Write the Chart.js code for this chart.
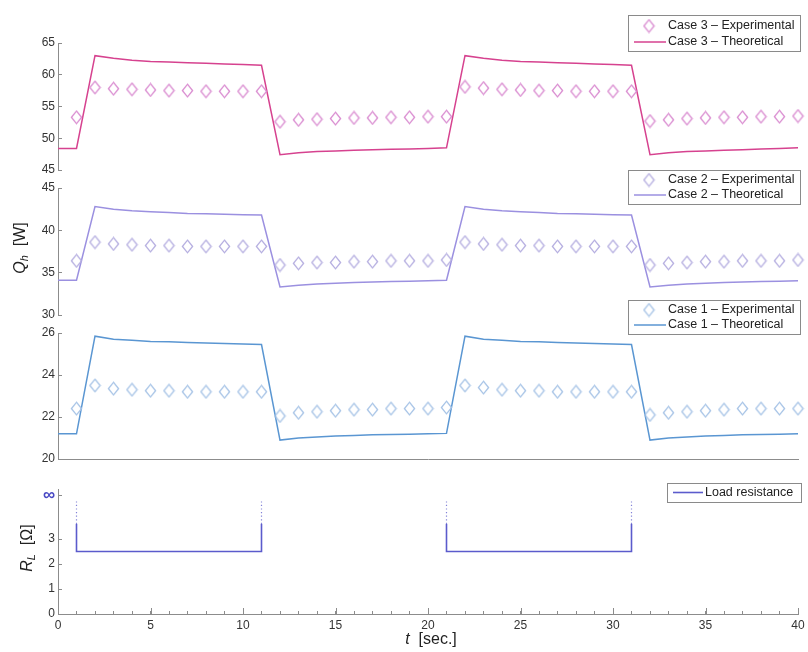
<!DOCTYPE html>
<html><head><meta charset="utf-8">
<script src="https://cdn.jsdelivr.net/npm/chart.js@4/dist/chart.umd.min.js"></script>
<style>
body{margin:0;background:#fff}
#wrap{position:relative;width:808px;height:652px;background:#fff}
#wrap canvas{position:absolute;left:0;top:0}
</style></head>
<body><div id="wrap">
<canvas id="c1" width="808" height="652"></canvas>
<canvas id="c2" width="808" height="652"></canvas>
<canvas id="c3" width="808" height="652"></canvas>
<canvas id="c4" width="808" height="652"></canvas>
</div>
<script>
// ---------------- data ----------------
const tTheory = [0,1,2,3,4,5,6,7,8,9,10,11,12,13,14,15,16,17,18,19,20,21,22,23,24,25,26,27,28,29,30,31,32,33,34,35,36,37,38,39,40];
const tExp = [1,2,3,4,5,6,7,8,9,10,11,12,13,14,15,16,17,18,19,20,21,22,23,24,25,26,27,28,29,30,31,32,33,34,35,36,37,38,39,40];

const case3Theory = [48.4,48.4, 63.0,62.6,62.3,62.1,62.0,61.9,61.8,61.7,61.6,61.5, 47.4,47.7,47.9,48.0,48.1,48.2,48.25,48.3,48.4,48.5, 63.0,62.6,62.3,62.1,62.0,61.9,61.8,61.7,61.6,61.5, 47.4,47.7,47.9,48.0,48.1,48.2,48.3,48.4,48.5];
const case3Exp = [53.3, 58.0,57.8,57.7,57.6,57.5,57.5,57.4,57.4,57.4,57.4, 52.6,52.9,53.0,53.1,53.2,53.2,53.3,53.3,53.4,53.4, 58.1,57.9,57.7,57.6,57.5,57.5,57.4,57.4,57.4,57.4, 52.7,52.9,53.1,53.2,53.3,53.3,53.4,53.4,53.5];

const case2Theory = [34.1,34.1, 42.8,42.5,42.3,42.2,42.1,42.0,41.95,41.9,41.85,41.8, 33.3,33.5,33.65,33.75,33.85,33.9,33.95,34.0,34.05,34.1, 42.8,42.5,42.3,42.2,42.1,42.0,41.95,41.9,41.85,41.8, 33.3,33.5,33.65,33.75,33.85,33.9,33.95,34.0,34.05];
const case2Exp = [36.4, 38.6,38.4,38.3,38.2,38.2,38.1,38.1,38.1,38.1,38.1, 35.9,36.1,36.2,36.2,36.3,36.3,36.4,36.4,36.4,36.5, 38.6,38.4,38.3,38.2,38.2,38.1,38.1,38.1,38.1,38.1, 35.9,36.1,36.2,36.3,36.3,36.4,36.4,36.4,36.5];

const case1Theory = [21.2,21.2, 25.85,25.7,25.65,25.6,25.58,25.55,25.52,25.5,25.48,25.45, 20.9,21.0,21.05,21.1,21.12,21.15,21.17,21.18,21.2,21.22, 25.85,25.7,25.65,25.6,25.58,25.55,25.52,25.5,25.48,25.45, 20.9,21.0,21.05,21.1,21.12,21.15,21.17,21.18,21.2];
const case1Exp = [22.4, 23.5,23.35,23.3,23.25,23.25,23.2,23.2,23.2,23.2,23.2, 22.05,22.2,22.25,22.3,22.35,22.35,22.4,22.4,22.4,22.45, 23.5,23.4,23.3,23.25,23.25,23.2,23.2,23.2,23.2,23.2, 22.1,22.2,22.25,22.3,22.35,22.4,22.4,22.4,22.4];

const loadX = [1,1,11,11,null,21,21,31,31];
const loadY = [3.6,2.5,2.5,3.6,null,3.6,2.5,2.5,3.6];
const loadDotX = [1,1,null,11,11,null,21,21,null,31,31];
const loadDotY = [3.6,4.5,null,3.6,4.5,null,3.6,4.5,null,3.6,4.5];

const rlTickValues = [0,1,2,3,4.75];
const rlTickLabels = ['0','1','2','3','\u221E'];
const xMajorTicks = [0,5,10,15,20,25,30,35,40];

const labels3 = ['Case 3 \u2013 Experimental','Case 3 \u2013 Theoretical'];
const labels2 = ['Case 2 \u2013 Experimental','Case 2 \u2013 Theoretical'];
const labels1 = ['Case 1 \u2013 Experimental','Case 1 \u2013 Theoretical'];
const labelLoad = 'Load resistance';

// ---------------- styling helpers ----------------
const FONT = '"Liberation Sans", Arial, Helvetica, sans-serif';
const AX = '#8c8c8c';
const TXT = '#333';

function diamond(color){
  const c = document.createElement('canvas'); c.width = 13; c.height = 15;
  const g = c.getContext('2d'); g.strokeStyle = color; g.lineWidth = 1.3;
  g.beginPath(); g.moveTo(6.5,1.2); g.lineTo(11.6,7.5); g.lineTo(6.5,13.8); g.lineTo(1.4,7.5); g.closePath(); g.stroke();
  return c;
}
function pts(xs, ys){ return xs.map((x,i)=>({x:x, y:ys[i]})); }

const boxLegend = {
  id:'boxLegend',
  afterDraw(chart, args, o){
    if(!o || !o.box) return;
    const ctx = chart.ctx; const [x,y,w,h] = o.box;
    ctx.save();
    ctx.fillStyle = '#fff'; ctx.fillRect(x,y,w,h);
    ctx.strokeStyle = '#8a8a8a'; ctx.lineWidth = 1; ctx.strokeRect(x+0.5,y+0.5,w,h);
    ctx.font = '12.5px ' + FONT; ctx.textBaseline = 'middle'; ctx.textAlign = 'left'; ctx.fillStyle = '#222';
    o.items.forEach((di,k)=>{
      const ds = chart.data.datasets[di]; const ry = y + o.rows[k];
      if(ds.showLine === false){
        const im = ds.pointStyle; ctx.drawImage(im, o.markX - im.width/2, ry - im.height/2);
      } else {
        ctx.strokeStyle = ds.borderColor; ctx.lineWidth = ds.borderWidth;
        ctx.beginPath(); ctx.moveTo(o.lineX[0], ry); ctx.lineTo(o.lineX[1], ry); ctx.stroke();
      }
      ctx.fillStyle = '#222'; ctx.fillText(ds.label, o.textX, ry);
    });
    ctx.restore();
  }
};

function drawRich(ctx, parts, cx, cy, rot){
  ctx.save(); ctx.translate(cx,cy); ctx.rotate(rot);
  let total = 0;
  parts.forEach(p=>{ ctx.font = p.font; p.w = ctx.measureText(p.t).width; total += p.w; });
  let x = -total/2; ctx.textBaseline = 'middle'; ctx.textAlign = 'left'; ctx.fillStyle = '#222';
  parts.forEach(p=>{ ctx.font = p.font; ctx.fillText(p.t, x, p.dy||0); x += p.w; });
  ctx.restore();
}

const decor = {
  id:'decor',
  afterDraw(chart){
    const ctx = chart.ctx; const xs = chart.scales.x; const b = chart.chartArea.bottom;
    ctx.save(); ctx.strokeStyle = AX; ctx.lineWidth = 1;
    xMajorTicks.forEach(v=>{ const px = Math.round(xs.getPixelForValue(v)) + 0.5; ctx.beginPath(); ctx.moveTo(px,b); ctx.lineTo(px,b-6); ctx.stroke(); });
    ctx.restore();
    const it = 'italic 16px ' + FONT, it2 = 'italic 11px ' + FONT, rg = '16px ' + FONT;
    drawRich(ctx, [{t:'Q',font:it},{t:'h',font:it2,dy:4},{t:'  [W]',font:rg}], 21, 248, -Math.PI/2);
    drawRich(ctx, [{t:'R',font:it},{t:'L',font:it2,dy:4},{t:'  [\u03A9]',font:rg}], 28, 548, -Math.PI/2);
    drawRich(ctx, [{t:'t',font:it},{t:'  [sec.]',font:rg}], 431, 640, 0);
  }
};

function yScale(min, max, step, extra){
  return Object.assign({
    type:'linear', min:min, max:max, position:'left',
    ticks:{stepSize:step, padding:7, color:TXT, font:{family:FONT, size:12}},
    grid:{drawOnChartArea:false, drawTicks:true, tickLength:-4, color:AX},
    border:{display:true, color:AX, width:1},
    afterFit(s){ s.width = 58; s.paddingTop = 0; s.paddingBottom = 0; }
  }, extra || {});
}
const xHidden = {type:'linear', min:0, max:40, display:false};
const xLineOnly = {type:'linear', min:0, max:40, ticks:{display:false}, grid:{display:false}, border:{display:true, color:AX, width:1},
  afterFit(s){ s.height = 0; s.paddingLeft = 0; s.paddingRight = 0; }};

function casePanel(id, theo, exp, labs, lineColor, markColor, ymin, ymax, step, top, bottom, xscale, legendBox, rows){
  return new Chart(document.getElementById(id), {
    type:'line',
    data:{datasets:[
      {label:labs[0], data:pts(tExp, exp), showLine:false, pointStyle:diamond(markColor), pointRadius:7, borderColor:markColor, clip:false},
      {label:labs[1], data:pts(tTheory, theo), pointRadius:0, borderColor:lineColor, borderWidth:1.5, tension:0, clip:false}
    ]},
    options:{
      responsive:false, animation:false, events:[],
      layout:{padding:{left:0, right:10, top:top, bottom:bottom}},
      plugins:{legend:{display:false}, tooltip:{enabled:false},
        boxLegend:{box:legendBox, rows:rows, items:[0,1], markX:649, lineX:[634,666], textX:668}},
      scales:{x:xscale, y:yScale(ymin, ymax, step)}
    },
    plugins:[boxLegend]
  });
}

casePanel('c1', case3Theory, case3Exp, labels3, '#d6428f', '#d98bd0', 45, 65, 5, 43, 652-170, xHidden, [628,15,172,36], [11,27]);
casePanel('c2', case2Theory, case2Exp, labels2, '#9b90e0', '#b5aee0', 30, 45, 5, 188, 652-315, xHidden, [628,170,172,34], [10,25]);
casePanel('c3', case1Theory, case1Exp, labels1, '#5a96d2', '#a6c3e6', 20, 26, 2, 333, 652-459, xLineOnly, [628,300,172,34], [10,25]);

new Chart(document.getElementById('c4'), {
  type:'line',
  data:{datasets:[
    {label:labelLoad, data:pts(loadX, loadY), pointRadius:0, borderColor:'#5b5bcc', borderWidth:1.6, tension:0, spanGaps:false, clip:false},
    {label:labelLoad, data:pts(loadDotX, loadDotY), pointRadius:0, borderColor:'#8383d8', borderWidth:1.2, borderDash:[1.2,2.4], tension:0, spanGaps:false, clip:false}
  ]},
  options:{
    responsive:false, animation:false, events:[],
    layout:{padding:{left:0, right:10, top:489, bottom:8}},
    plugins:{legend:{display:false}, tooltip:{enabled:false},
      boxLegend:{box:[667,483,134,19], rows:[9.5], items:[0], markX:688, lineX:[673,703], textX:705}},
    scales:{
      x:{type:'linear', min:0, max:40,
        ticks:{stepSize:1, autoSkip:false, maxRotation:0, padding:7, color:TXT, font:{family:FONT,size:12},
          callback:(v)=> (xMajorTicks.indexOf(v) >= 0 ? String(v) : '')},
        grid:{drawOnChartArea:false, drawTicks:true, tickLength:-3, color:AX},
        border:{display:true, color:AX, width:1},
        afterFit(s){ s.height = 30; s.paddingLeft = 0; s.paddingRight = 0; }},
      y:yScale(0, 5, 1, {
        afterBuildTicks(s){ s.ticks = rlTickValues.map(v=>({value:v})); },
        ticks:{padding:7, color:(c)=> (c.tick && c.tick.value > 4 ? '#4a4ac4' : TXT),
          font:(c)=> (c.tick && c.tick.value > 4 ? {family:FONT, size:17, weight:'bold'} : {family:FONT, size:12}),
          callback:(v)=> rlTickLabels[rlTickValues.indexOf(v)]}
      })
    }
  },
  plugins:[boxLegend, decor]
});
</script>
</body></html>
